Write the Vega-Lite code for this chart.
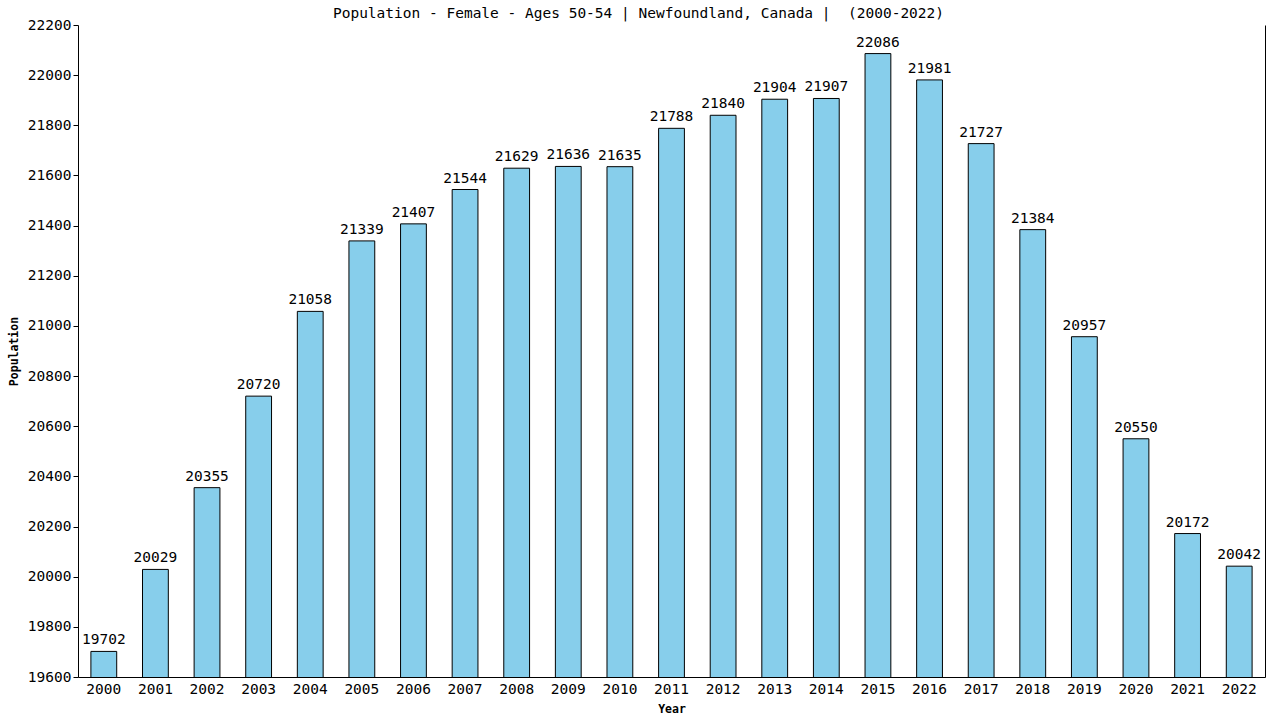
{
  "$schema": "https://vega.github.io/schema/vega-lite/v6.json",
  "width": 1187,
  "height": 652,
  "autosize": {"type": "none"},
  "padding": {"left": 78, "top": 25, "right": 15, "bottom": 43},
  "background": "white",
  "config": {
    "font": "DejaVu Sans Mono",
    "view": {"stroke": null}
  },
  "title": {
    "text": "Population - Female - Ages 50-54 | Newfoundland, Canada | \u00a0(2000-2022)",
    "fontSize": 14.5,
    "fontWeight": "normal",
    "offset": -4,
    "dx": -33,
    "font": "DejaVu Sans Mono"
  },
  "data": {
    "values": [
      {"Year": "2000", "Population": 19702},
      {"Year": "2001", "Population": 20029},
      {"Year": "2002", "Population": 20355},
      {"Year": "2003", "Population": 20720},
      {"Year": "2004", "Population": 21058},
      {"Year": "2005", "Population": 21339},
      {"Year": "2006", "Population": 21407},
      {"Year": "2007", "Population": 21544},
      {"Year": "2008", "Population": 21629},
      {"Year": "2009", "Population": 21636},
      {"Year": "2010", "Population": 21635},
      {"Year": "2011", "Population": 21788},
      {"Year": "2012", "Population": 21840},
      {"Year": "2013", "Population": 21904},
      {"Year": "2014", "Population": 21907},
      {"Year": "2015", "Population": 22086},
      {"Year": "2016", "Population": 21981},
      {"Year": "2017", "Population": 21727},
      {"Year": "2018", "Population": 21384},
      {"Year": "2019", "Population": 20957},
      {"Year": "2020", "Population": 20550},
      {"Year": "2021", "Population": 20172},
      {"Year": "2022", "Population": 20042}
    ]
  },
  "encoding": {
    "x": {
      "field": "Year",
      "type": "ordinal",
      "scale": {"paddingInner": 0.5, "paddingOuter": 0.25},
      "axis": {
        "title": "Year",
        "titleFontSize": 11.5,
        "titleFontWeight": "bold",
        "titlePadding": 8,
        "labelAngle": 0,
        "labelFontSize": 14.5,
        "labelColor": "black",
        "labelPadding": 5,
        "ticks": false,
        "domainColor": "black"
      }
    }
  },
  "layer": [
    {
      "mark": {"type": "bar", "fill": "#87CEEB", "stroke": "black", "strokeWidth": 1, "clip": true},
      "encoding": {
        "y": {
          "field": "Population",
          "type": "quantitative",
          "scale": {"domain": [19600, 22200], "nice": false, "zero": false},
          "axis": {
            "title": "Population",
            "titleFontSize": 11.5,
            "titleFontWeight": "bold",
            "titlePadding": 8,
            "values": [19600, 19800, 20000, 20200, 20400, 20600, 20800, 21000, 21200, 21400, 21600, 21800, 22000, 22200],
            "format": "d",
            "labelFontSize": 14.5,
            "labelColor": "black",
            "tickColor": "black",
            "tickSize": 5,
            "domainColor": "black",
            "grid": false
          }
        }
      }
    },
    {
      "mark": {"type": "text", "baseline": "bottom", "dy": -4, "fontSize": 14.5, "color": "black"},
      "encoding": {
        "y": {"field": "Population", "type": "quantitative", "axis": null},
        "text": {"field": "Population", "type": "quantitative", "format": "d"}
      }
    },
    {
      "mark": {"type": "rule", "opacity": 0},
      "encoding": {
        "y": {
          "field": "Population",
          "type": "quantitative",
          "axis": {
            "orient": "right",
            "title": null,
            "labels": false,
            "ticks": false,
            "grid": false,
            "domainColor": "black"
          }
        }
      }
    }
  ],
  "resolve": {"axis": {"y": "independent"}}
}
